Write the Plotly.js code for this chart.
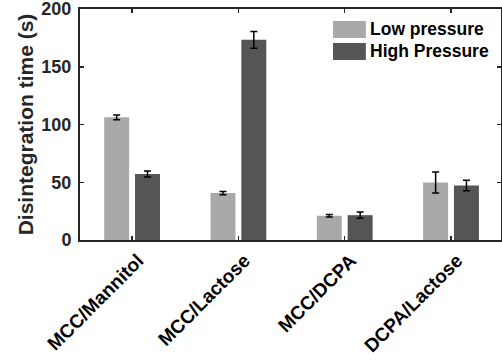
<!DOCTYPE html>
<html>
<head>
<meta charset="utf-8">
<script src="https://cdn.plot.ly/plotly-3.0.1.min.js"></script>
<style>
  html, body { margin: 0; padding: 0; background: #ffffff; }
  #chart { width: 502px; height: 360px; }
</style>
</head>
<body>
<div id="chart"></div>
<script>
// Disintegration time per excipient blend, at two compaction pressures
const blends = ['MCC/Mannitol', 'MCC/Lactose', 'MCC/DCPA', 'DCPA/Lactose'];
const lowPressure = [106.2, 40.6, 21.0, 49.8];
const lowPressureErr = [2.1, 1.4, 1.1, 9.0];
const highPressure = [57.2, 173.3, 21.5, 47.2];
const highPressureErr = [2.6, 7.3, 2.7, 4.5];
const seriesNames = ['Low pressure', 'High Pressure'];
const yTicks = [0, 50, 100, 150, 200];

const lowColor = '#a9a9a9';
const highColor = '#555555';
const axisColor = '#262626';
const fontFamily = 'Arial, Liberation Sans, Helvetica, sans-serif';
const bold = s => '<b>' + s + '</b>';

const errStyle = { type: 'data', visible: true, color: '#000000', thickness: 1.5, width: 3.5 };

const traces = [
  {
    type: 'bar', name: seriesNames[0], x: blends, y: lowPressure,
    marker: { color: lowColor, line: { width: 0 } },
    error_y: Object.assign({ array: lowPressureErr }, errStyle),
    showlegend: false
  },
  {
    type: 'bar', name: seriesNames[1], x: blends, y: highPressure,
    marker: { color: highColor, line: { width: 0 } },
    error_y: Object.assign({ array: highPressureErr }, errStyle),
    showlegend: false
  }
];

// Legend drawn as wide swatches with labels beside them (paper coordinates)
const legendFont = { family: fontFamily, size: 17.5, color: '#000000', weight: 'bold' };
const shapes = [
  { type: 'rect', xref: 'paper', yref: 'paper', x0: 0.601, x1: 0.679, y0: 0.874, y1: 0.948,
    fillcolor: lowColor, line: { width: 0 } },
  { type: 'rect', xref: 'paper', yref: 'paper', x0: 0.601, x1: 0.679, y0: 0.779, y1: 0.853,
    fillcolor: highColor, line: { width: 0 } }
];
const annotations = [
  { xref: 'paper', yref: 'paper', x: 0.684, y: 0.913, xanchor: 'left', yanchor: 'middle',
    text: bold(seriesNames[0]), showarrow: false, font: legendFont },
  { xref: 'paper', yref: 'paper', x: 0.684, y: 0.818, xanchor: 'left', yanchor: 'middle',
    text: bold(seriesNames[1]), showarrow: false, font: legendFont }
];

const layout = {
  width: 502, height: 360,
  margin: { l: 80, r: 1, t: 9, b: 120, pad: 0 },
  paper_bgcolor: '#ffffff', plot_bgcolor: '#ffffff',
  barmode: 'group', bargap: 0.42, bargroupgap: 0.19,
  showlegend: false,
  font: { family: fontFamily, color: axisColor, weight: 'bold' },
  xaxis: {
    type: 'category', range: [-0.49, 3.47],
    tickvals: blends, ticktext: blends.map(bold),
    showline: true, linecolor: axisColor, linewidth: 2, mirror: 'ticks',
    ticks: 'inside', ticklen: 4, tickwidth: 1.5, tickcolor: axisColor,
    tickangle: -45, ticklabelshift: 6,
    tickfont: { family: fontFamily, size: 19, color: '#000000', weight: 'bold' },
    showgrid: false, zeroline: false, fixedrange: true
  },
  yaxis: {
    range: [0, 200], tickvals: yTicks, ticktext: yTicks.map(v => bold(String(v))),
    showline: true, linecolor: axisColor, linewidth: 2, mirror: 'ticks',
    ticks: 'inside', ticklen: 4, tickwidth: 1.5, tickcolor: axisColor,
    tickfont: { family: fontFamily, size: 18, color: '#262626', weight: 'bold' },
    ticklabelstandoff: 3, ticklabeloverflow: 'allow',
    title: { text: bold('Disintegration time (s)'), standoff: 2,
      font: { family: fontFamily, size: 21, color: '#262626', weight: 'bold' } },
    showgrid: false, zeroline: false, fixedrange: true
  },
  shapes: shapes,
  annotations: annotations
};

Plotly.newPlot('chart', traces, layout, { staticPlot: true, displayModeBar: false });
</script>
</body>
</html>
